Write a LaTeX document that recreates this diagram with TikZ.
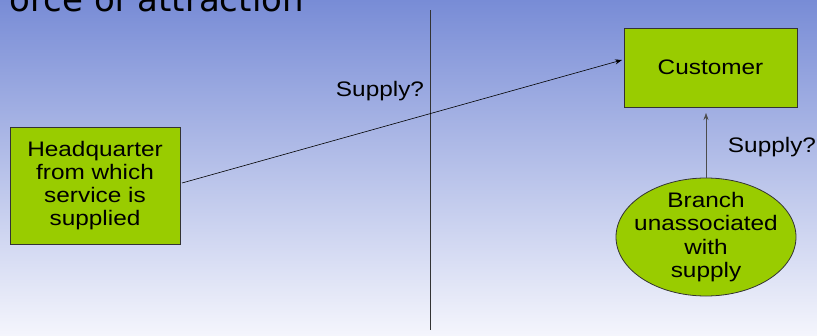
\documentclass[tikz,border=0pt]{standalone}
\usepackage{fontspec}
\setmainfont{Liberation Sans}
\newfontfamily\labfont[FakeStretch=1.16]{Liberation Sans}
\newfontfamily\titlefont{DejaVu Sans}
\usetikzlibrary{shapes.geometric,arrows.meta}
\definecolor{bgtop}{RGB}{120,140,214}
\definecolor{bgbot}{RGB}{244,245,252}
\definecolor{boxgreen}{RGB}{153,204,0}
\tikzset{
  gbox/.style={draw=black!80, line width=0.8pt, fill=boxgreen, inner sep=0pt, align=center, font=\labfont\fontsize{21}{23}\selectfont},
  gell/.style={ellipse, draw=black!80, line width=0.8pt, fill=boxgreen, inner sep=0pt},
  gtext/.style={align=center, inner sep=0pt, font=\labfont\fontsize{21}{23.5}\selectfont},
  conn/.style={draw=black, line width=0.6pt, -{Stealth[length=7pt,width=5pt]}},
  lbl/.style={font=\labfont\fontsize{21}{23}\selectfont, inner sep=0pt}
}
\begin{document}
\begin{tikzpicture}[x=1pt,y=-1pt]
\useasboundingbox (0,0) rectangle (817,335);
\clip (0,0) rectangle (817,335);
\shade[top color=bgtop, bottom color=bgbot] (0,0) rectangle (817,335);
\node[anchor=base east, inner sep=0pt, font=\titlefont\fontsize{34}{40}\selectfont] (title) at (304,11) {Force of attraction};
\draw[black!80, line width=0.8pt] (430,10) -- (430,330);
\node[gbox, minimum width=173pt, minimum height=79pt] (cust) at (710.5,67.5) {Customer};
\node[gbox, minimum width=170pt, minimum height=117pt] (hq) at (95,185.5) {Headquarter\\from which\\service is\\supplied};
\node[gell, minimum width=180pt, minimum height=118pt] (br) at (706,237) {};
\node[gtext] (brtext) at (br.center) {Branch\\unassociated\\with\\supply};
\coordinate (hqout) at (182,183);
\coordinate (custin) at (622,60);
\draw[conn] (hqout) -- (custin);
\coordinate (custbot) at (706,113);
\draw[conn, draw=black!70] (br.north) -- (custbot);
\node[lbl] (s1) at (380,91) {Supply?};
\node[lbl] (s2) at (772,147) {Supply?};
\end{tikzpicture}
\end{document}
